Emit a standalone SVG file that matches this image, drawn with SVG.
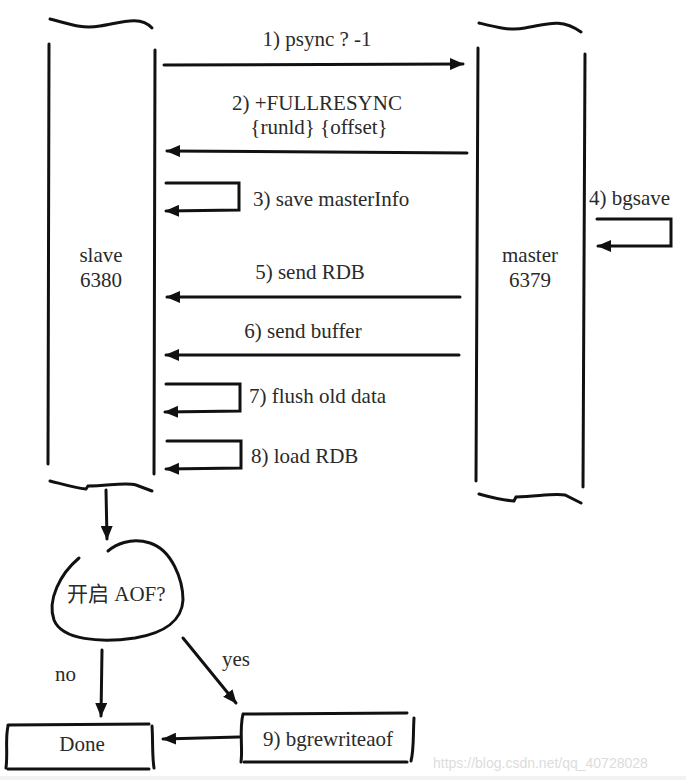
<svg xmlns="http://www.w3.org/2000/svg" width="686" height="780" viewBox="0 0 686 780">
<defs>
<marker id="ah" viewBox="0 0 14 12" refX="13" refY="6" markerWidth="14" markerHeight="12" markerUnits="userSpaceOnUse" orient="auto">
<path d="M0,0 L14,6 L0,12 Z" fill="#111"/>
</marker>
</defs>
<style>
.ln{fill:none;stroke:#111;stroke-width:3;stroke-linecap:round;stroke-linejoin:miter}
.t{font-family:'Liberation Serif','Noto Sans CJK SC',serif;font-size:21px;fill:#2a2a2a}
.c{text-anchor:middle}
.wm{font-family:'Liberation Sans',sans-serif;font-size:14px;fill:#dcdcdc}
</style>
<rect width="686" height="780" fill="#fff"/>
<rect x="0" y="776" width="686" height="4" fill="#f2f2f2"/>

<g id="slave">
<path class="ln" d="M49,44 L48,464"/>
<path class="ln" d="M155,50 L154,474"/>
<path class="ln" d="M50,19 C70,24 80,29 100,26 C120,23 140,15 152,28"/>
<path class="ln" d="M50,481 C62,484 75,488 86,489 L88,486 C108,486 125,482 136,485 L152,491"/>
<text class="t c" x="101" y="262">slave</text>
<text class="t c" x="101" y="287">6380</text>
</g>

<g id="master">
<path class="ln" d="M478,48 L476,481"/>
<path class="ln" d="M585,54 L583,487"/>
<path class="ln" d="M479,23 C495,27 510,31 525,28 C545,25 560,17 581,32"/>
<path class="ln" d="M479,494 C490,497 500,500 514,501 L516,497 C540,496 555,493 565,495 L581,503"/>
<text class="t c" x="530" y="262">master</text>
<text class="t c" x="530" y="287">6379</text>
</g>

<g id="decision">
<path class="ln" d="M79,558 C60,574 47,600 54,620 C62,640 100,643 135,638 C165,633 182,620 183,600 C183,580 172,550 150,543 C130,537 115,545 108,551"/>
<text class="t" x="67" y="601">开启 AOF?</text>
</g>

<g id="done">
<path class="ln" d="M8,725 L149,724"/>
<path class="ln" d="M8,769 L149,769"/>
<path class="ln" d="M8,726 C5,740 8,752 6,768"/>
<path class="ln" d="M152,726 C153,740 152,755 154,768"/>
<text class="t c" x="82" y="751">Done</text>
</g>

<g id="bgrewriteaof">
<path class="ln" d="M244,714 L407,713"/>
<path class="ln" d="M244,762 L407,762"/>
<path class="ln" d="M243,714 C239,730 243,748 241,762"/>
<path class="ln" d="M414,718 C413,735 414,750 411,761"/>
<text class="t c" x="328" y="746">9) bgrewriteaof</text>
</g>

<g id="connectors">
<path class="ln" d="M164,65 L463,64" marker-end="url(#ah)"/>
<text class="t c" x="317" y="46">1) psync ? -1</text>

<path class="ln" d="M467,153 L167,151" marker-end="url(#ah)"/>
<text class="t c" x="317" y="110">2) +FULLRESYNC</text>
<text class="t c" x="319" y="134">{runld} {offset}</text>

<path class="ln" d="M166,183 L239,183 L239,210 L166,211" marker-end="url(#ah)"/>
<text class="t" x="253" y="206">3) save masterInfo</text>

<path class="ln" d="M597,219 L671,219 L671,246 L598,246" marker-end="url(#ah)"/>
<text class="t" x="589" y="205">4) bgsave</text>

<path class="ln" d="M460,297 L167,297" marker-end="url(#ah)"/>
<text class="t c" x="310" y="279">5) send RDB</text>

<path class="ln" d="M459,355 L166,355" marker-end="url(#ah)"/>
<text class="t c" x="303" y="338">6) send buffer</text>

<path class="ln" d="M166,384 L240,384 L240,411 L165,412" marker-end="url(#ah)"/>
<text class="t" x="249" y="403">7) flush old data</text>

<path class="ln" d="M167,441 L241,441 L241,468 L166,469" marker-end="url(#ah)"/>
<text class="t" x="251" y="463">8) load RDB</text>

<path class="ln" d="M106,490 L107,539" marker-end="url(#ah)"/>

<path class="ln" d="M102,650 L101,716" marker-end="url(#ah)"/>
<text class="t" x="55" y="681">no</text>

<path class="ln" d="M183,638 L236,703" marker-end="url(#ah)"/>
<text class="t" x="222" y="666">yes</text>

<path class="ln" d="M239,737 L163,739" marker-end="url(#ah)"/>
</g>

<text class="wm" x="433" y="768">https://blog.csdn.net/qq_40728028</text>
</svg>
